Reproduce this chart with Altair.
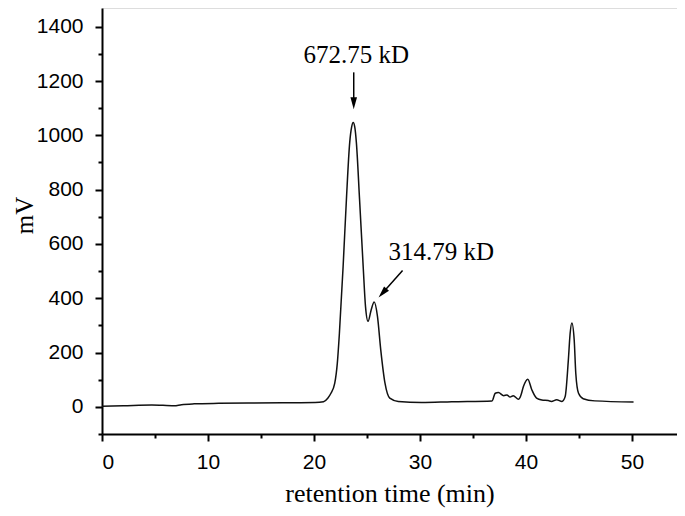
import altair as alt
import pandas as pd

# chromatogram trace (retention time in min, signal in mV)
times = [0, 2, 4.7, 6.8, 7.5, 8.7, 11, 13.8, 17, 20.1, 20.9, 21.3, 21.6, 21.96, 22.2, 22.4,
         22.75, 23.06, 23.37, 23.55, 23.7, 23.85, 24.0, 24.3, 24.64, 24.86, 25.1, 25.4, 25.68,
         25.99, 26.3, 26.7, 27.15, 27.95, 30.15, 33, 36.8, 37.1, 37.4, 37.9, 38.2, 38.5, 38.8,
         39.3, 39.5, 39.76, 40.17, 40.55, 41.0, 41.5, 42.1, 42.4, 42.9, 43.4, 43.7, 44.0, 44.17,
         44.33, 44.55, 44.7, 44.96, 45.4, 46.5, 50.15]
signal = [2, 4, 7, 4, 8, 11, 13, 14, 15, 16, 19, 32, 50, 87, 160, 272,
          518, 764, 973, 1030, 1047, 1030, 973, 764, 518, 370, 315, 358, 386,
          333, 210, 87, 32, 20, 16, 19, 22, 50, 53, 41, 44, 36, 41,
          28, 40, 75, 102, 63, 32, 25, 23, 20, 26, 20, 38, 173, 272,
          309, 247, 124, 50, 30, 22, 18]

# annotations
ann_text = ["672.75 kD", "314.79 kD"]
ann_x = [24.0, 32.0]
ann_y = [1268, 542]
arrow_x = [23.75, 28.36]
arrow_y = [1232, 502]
arrow_x2 = [23.75, 26.47]
arrow_y2 = [1118, 419]
arrow_angle = [180, 221.6]

x_major = [0, 10, 20, 30, 40, 50]
x_minor = [5, 15, 25, 35, 45, 55]
y_major = [0, 200, 400, 600, 800, 1000, 1200, 1400]
y_minor = [-100, 100, 300, 500, 700, 900, 1100, 1300]

curve = pd.DataFrame({"time": times, "mV": signal})
ann = pd.DataFrame({"x": ann_x, "y": ann_y, "text": ann_text})
arrows = pd.DataFrame({"x": arrow_x, "y": arrow_y, "x2": arrow_x2, "y2": arrow_y2,
                       "angle": arrow_angle})

xs = alt.Scale(domain=[0, 54.25], nice=False, zero=False)
ys = alt.Scale(domain=[-100, 1469], nice=False, zero=False)

sans = "Liberation Sans"
serif = "Liberation Serif"

line = alt.Chart(curve).mark_line(color="#111111", strokeWidth=1.5, interpolate="monotone").encode(
    x=alt.X("time:Q", scale=xs, axis=alt.Axis(
        values=x_major, orient="bottom", title="retention time (min)", grid=False,
        tickSize=7, tickWidth=2, tickColor="black", domainColor="black", domainWidth=2,
        labelFont=sans, labelFontSize=21, labelColor="black", labelPadding=10,
        titleFont=serif, titleFontSize=26, titleFontWeight="normal", titleColor="black",
        titleBaseline="alphabetic", titleY=67)),
    y=alt.Y("mV:Q", scale=ys, axis=alt.Axis(
        values=y_major, orient="left", title="mV", grid=False, format="d",
        tickSize=7, tickWidth=2, tickColor="black", domainColor="black", domainWidth=2,
        labelFont=sans, labelFontSize=21, labelColor="black", labelPadding=12,
        titleFont=serif, titleFontSize=25, titleFontWeight="normal", titleColor="black",
        titleBaseline="alphabetic", titleAngle=270, titleX=-70, titleY=207)),
)

rules = alt.Chart(arrows).mark_rule(color="black", strokeWidth=1.5).encode(
    x=alt.X("x:Q", scale=xs, axis=alt.Axis(
        values=x_minor, orient="bottom", title="", grid=False, labels=False, domain=False,
        tickSize=4, tickWidth=2, tickColor="black")),
    y=alt.Y("y:Q", scale=ys, axis=alt.Axis(
        values=y_minor, orient="left", title="", grid=False, labels=False, domain=False,
        tickSize=4, tickWidth=2, tickColor="black")),
    x2="x2:Q",
    y2="y2:Q",
)

heads = alt.Chart(arrows).mark_point(
    shape="M0,-1L0.55,1L-0.55,1Z", filled=True, color="black", size=144, opacity=1
).encode(
    x=alt.X("x2:Q", scale=xs, axis=None),
    y=alt.Y("y2:Q", scale=ys, axis=None),
    angle=alt.Angle("angle:Q", scale=None),
)

texts = alt.Chart(ann).mark_text(font=serif, fontSize=25, color="black",
                                 align="center", baseline="alphabetic").encode(
    x=alt.X("x:Q", scale=xs, axis=None),
    y=alt.Y("y:Q", scale=ys, axis=None),
    text="text:N",
)

chart = alt.layer(line, rules, heads, texts).resolve_scale(
    x="shared", y="shared"
).resolve_axis(
    x="independent", y="independent"
).properties(
    width=575, height=426,
    autosize=alt.AutoSizeParams(type="none"),
    padding={"left": 94, "top": 0, "right": 0, "bottom": 74},
).configure_view(strokeWidth=0).configure(background="white")

chart.save("out.html", embed_options={"renderer": "svg", "actions": False})
